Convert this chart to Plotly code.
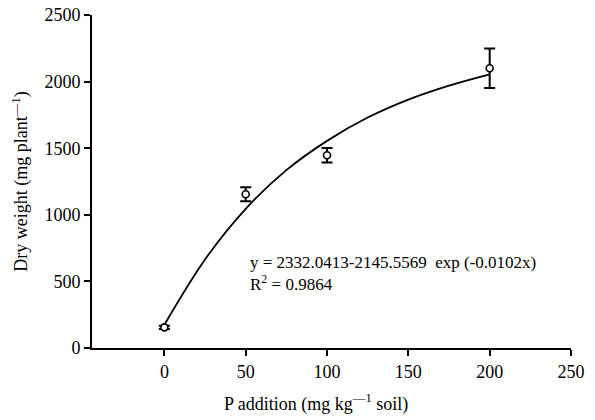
import plotly.graph_objects as go

# Observed data
p_add = [0, 50, 100, 200]
dry_weight = [155, 1154, 1447, 2100]
dry_err = [12, 52, 55, 148]

# Fitted curve
fit_x = [0, 25, 50, 75, 100, 125, 150, 175, 200]
fit_y = [175, 665, 1045, 1335, 1555, 1730, 1865, 1970, 2055]

x_ticks = [0, 50, 100, 150, 200, 250]
y_ticks = [0, 500, 1000, 1500, 2000, 2500]

FONT = "'Liberation Serif', 'DejaVu Serif', serif"

fig = go.Figure()
fig.add_trace(go.Scatter(x=fit_x, y=fit_y, mode="lines", line=dict(color="black", width=1.8, shape="spline"),
                         hoverinfo="skip", showlegend=False))
fig.add_trace(go.Scatter(x=p_add, y=dry_weight, mode="markers",
                         marker=dict(symbol="circle", size=7, color="white", line=dict(color="black", width=1.6)),
                         error_y=dict(type="data", array=dry_err, color="black", thickness=2, width=5.5),
                         showlegend=False))

fig.update_layout(
    width=595, height=420,
    margin=dict(l=92, r=24, t=15, b=72, autoexpand=False),
    paper_bgcolor="white", plot_bgcolor="white",
    font=dict(family=FONT, size=16, color="black"),
    xaxis=dict(range=[-44.5, 250], tickvals=x_ticks, ticks="outside", ticklen=6, tickwidth=2,
               tickcolor="black", showline=True, linecolor="black", linewidth=2, showgrid=False,
               zeroline=False, automargin=False, tickfont=dict(family=FONT, size=18)),
    yaxis=dict(range=[0, 2500], tickvals=y_ticks, ticks="outside", ticklen=6, tickwidth=2,
               tickcolor="black", showline=True, linecolor="black", linewidth=2, showgrid=False,
               zeroline=False, automargin=False, tickfont=dict(family=FONT, size=18),
               title=dict(text="Dry weight (mg plant<sup>\u2014</sup><sup>1</sup>)", font=dict(family=FONT, size=18), standoff=12)),
    annotations=[
        dict(text="P addition (mg kg<sup>\u2014</sup><sup>1</sup> soil)", xref="paper", yref="paper",
             x=(316 - 92) / (571 - 92), y=-(403 - 348) / (348 - 15), xanchor="center", yanchor="middle",
             showarrow=False, font=dict(family=FONT, size=18)),
        dict(text="y = 2332.0413-2145.5569  exp (-0.0102x)", xref="x", yref="paper",
             x=((248 - 164.5) / 81.5) * 50, y=(348 - 262) / (348 - 15), xanchor="left", yanchor="middle",
             showarrow=False, font=dict(family=FONT, size=17)),
        dict(text="R<sup>2</sup> = 0.9864", xref="x", yref="paper",
             x=((248 - 164.5) / 81.5) * 50, y=(348 - 283) / (348 - 15), xanchor="left", yanchor="middle",
             showarrow=False, font=dict(family=FONT, size=17)),
    ],
)

fig.write_html("out.html")
